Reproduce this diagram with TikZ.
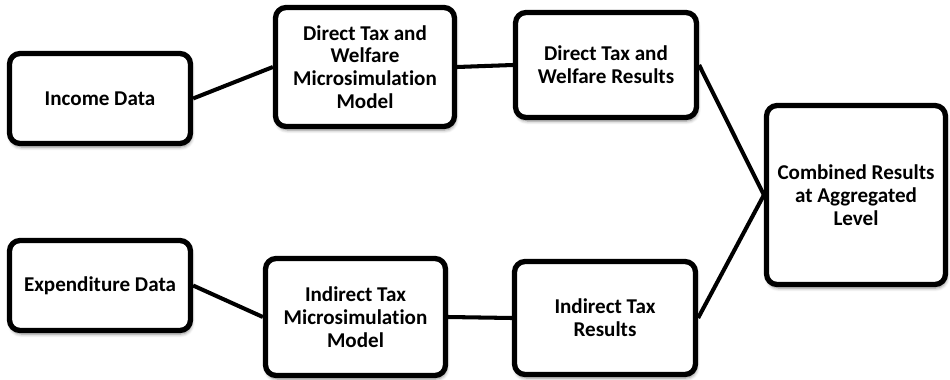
\documentclass[tikz,border=0pt]{standalone}
\usepackage{fontspec}
\setmainfont{Carlito}[Ligatures={NoCommon,NoContextual}]
\usetikzlibrary{shadows.blur}
\tikzset{
  box/.style={draw=black, line width=3pt, rounded corners=6pt, fill=white,
    align=center, inner sep=0pt, font=\bfseries\fontsize{12}{13}\selectfont,
    blur shadow={shadow xshift=0.6pt, shadow yshift=-2pt, shadow blur steps=6, shadow opacity=45}},
  link/.style={line width=2.3pt, black}
}

\begin{document}
\begin{tikzpicture}[x=0.02cm, y=-0.02cm]
  \useasboundingbox (0,0) rectangle (950,379);

  % direct tax branch
  \node [box, minimum width=3.62cm, minimum height=1.80cm] (income) at (100,98.5) {Income Data};
  \node [box, minimum width=3.58cm, minimum height=2.38cm] (dtmodel) at (365,67) {Direct Tax and\\Welfare\\Microsimulation\\Model};
  \node [box, minimum width=3.62cm, minimum height=2.10cm] (dtresults) at (606,65) {Direct Tax and\\Welfare Results};

  % indirect tax branch
  \node [box, minimum width=3.62cm, minimum height=1.80cm] (expend) at (100,285.5) {Expenditure Data};
  \node [box, minimum width=3.60cm, minimum height=2.34cm] (itmodel) at (355.5,317) {Indirect Tax\\Microsimulation\\Model};
  \node [box, minimum width=3.62cm, minimum height=2.26cm] (itresults) at (605,318) {Indirect Tax\\Results};

  \node [box, minimum width=3.58cm, minimum height=3.58cm] (combined) at (856,195) {Combined Results\\at Aggregated\\Level};

  \draw [link] (income.east) -- (dtmodel.west);
  \draw [link] (dtmodel.east) -- (dtresults.west);
  \draw [link] (dtresults.east) -- (combined.west);
  \draw [link] (expend.east) -- (itmodel.west);
  \draw [link] (itmodel.east) -- (itresults.west);
  \draw [link] (itresults.east) -- (combined.west);
\end{tikzpicture}
\end{document}
